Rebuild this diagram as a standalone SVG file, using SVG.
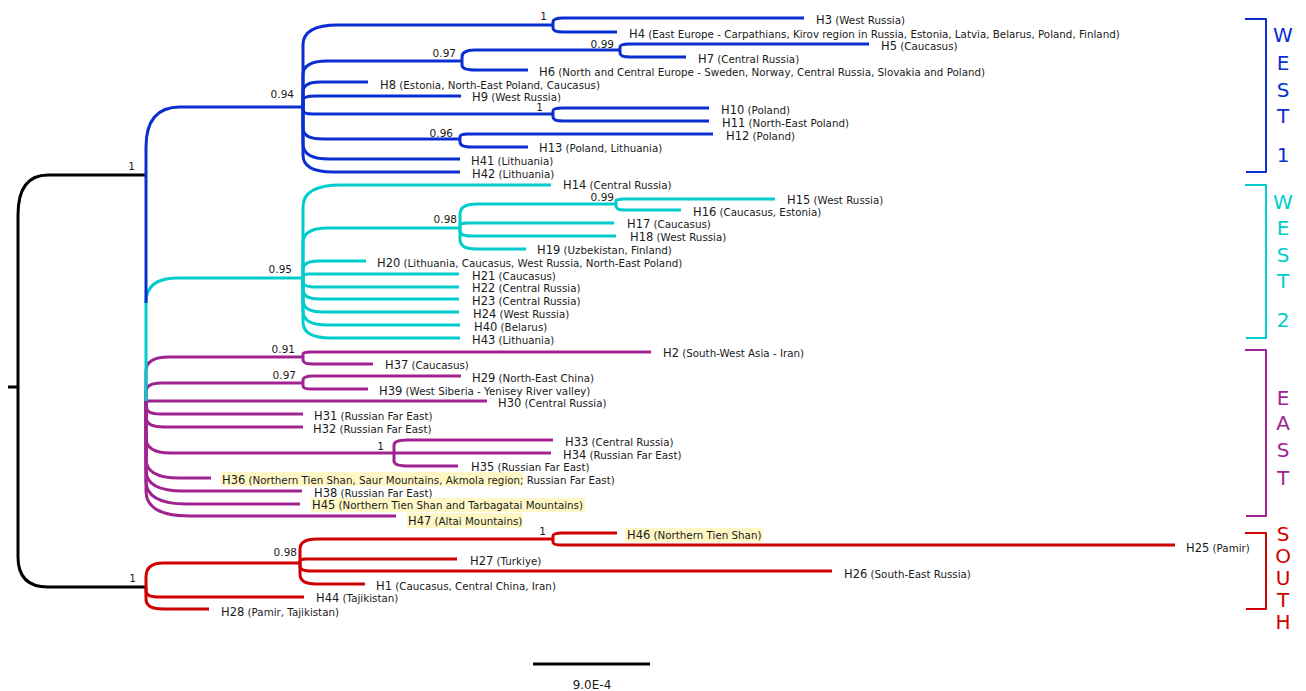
<svg xmlns="http://www.w3.org/2000/svg" width="1306" height="691" viewBox="0 0 1306 691">
<style>
path{fill:none;stroke-width:3;stroke-linejoin:round}
.k{stroke:#000}.b{stroke:#0a2ed0}.c{stroke:#00cccc}.p{stroke:#a0248f}.r{stroke:#d00000}
.lbl{font-family:"DejaVu Sans",sans-serif;fill:#1a1a1a}
.hn{font-size:11.5px}.ds{font-size:10.3px}
.sup{font-family:"DejaVu Sans",sans-serif;font-size:10.5px;text-anchor:end;fill:#1a1a1a}
.hl{fill:#fff8c6}
.brk{fill:none;stroke-width:2}
.cl{font-family:"DejaVu Sans",sans-serif;font-size:20px;text-anchor:middle}
</style>
<rect width="1306" height="691" fill="#fff"/>
<g id="highlights">
<rect class="hl" x="221" y="472" width="302" height="14"/>
<rect class="hl" x="311" y="498" width="274" height="14"/>
<rect class="hl" x="407" y="513" width="116" height="15"/>
<rect class="hl" x="625" y="528" width="138" height="14"/>
</g>
<g id="connectors">
<g class="k">
<path d="M8,387 H18"/>
<path d="M18,387 V215 Q18,175 48,175 H146"/>
<path d="M18,387 V557 Q18,587 48,587 H146"/>
<path d="M533,664 H650"/>
</g>
<g class="p">
<path d="M146,401 V371 Q146,357 169,357 H303"/>
<path d="M146,401 V392 Q146,383 161,383 H303"/>
<path d="M146,401 H487"/>
<path d="M146,401 V406 Q146,414 160,414 H303"/>
<path d="M146,401 V417 Q146,427 164,427 H303"/>
<path d="M146,401 V438 Q146,453 171,453 H394"/>
<path d="M146,401 V459 Q146,478 179,478 H211"/>
<path d="M146,401 V470 Q146,491 183,491 H302"/>
<path d="M146,401 V481 Q146,504 187,504 H300"/>
<path d="M146,401 V491 Q146,516 190,516 H396"/>
<path d="M303,357 V354 Q303,352 310,352 H651"/>
<path d="M303,357 V360 Q303,364 313,364 H373"/>
<path d="M303,383 V380 Q303,376 313,376 H461"/>
<path d="M303,383 V386 Q303,389 312,389 H368"/>
<path d="M394,453 V445 Q394,440 407,440 H553"/>
<path d="M394,453 H551"/>
<path d="M394,453 V461 Q394,466 408,466 H458"/>
</g>
<g class="c">
<path d="M146,401 V302 Q146,278 178,278 H303"/>
<path d="M303,278 V207 Q303,185 341,185 H551"/>
<path d="M303,278 V243 Q303,228 328,228 H460"/>
<path d="M303,278 V270 Q303,261 318,261 H366"/>
<path d="M303,278 V276 Q303,274 309,274 H459"/>
<path d="M303,278 V282 Q303,287 316,287 H459"/>
<path d="M303,278 V289 Q303,299 319,299 H459"/>
<path d="M303,278 V300 Q303,312 323,312 H459"/>
<path d="M303,278 V311 Q303,325 327,325 H460"/>
<path d="M303,278 V322 Q303,338 331,338 H460"/>
<path d="M460,228 V214 Q460,204 477,204 H616"/>
<path d="M460,228 V226 Q460,223 467,223 H614"/>
<path d="M460,228 V231 Q460,236 471,236 H616"/>
<path d="M460,228 V239 Q460,249 476,249 H526"/>
<path d="M616,204 V201 Q616,199 624,199 H775"/>
<path d="M616,204 V206 Q616,210 625,210 H681"/>
</g>
<g class="b">
<path d="M146,175 V303"/>
<path d="M146,175 V147 Q146,107 180,107 H303"/>
<path d="M303,107 V45 Q303,25 338,25 H553"/>
<path d="M303,107 V75 Q303,61 327,61 H462"/>
<path d="M303,107 V92 Q303,82 320,82 H368"/>
<path d="M303,107 V100 Q303,96 316,96 H461"/>
<path d="M303,107 V110 Q303,114 313,114 H553"/>
<path d="M303,107 V128 Q303,139 323,139 H460"/>
<path d="M303,107 V144 Q303,159 329,159 H460"/>
<path d="M303,107 V155 Q303,172 333,172 H460"/>
<path d="M553,25 V22 Q553,18 563,18 H804"/>
<path d="M553,25 V28 Q553,32 563,32 H617"/>
<path d="M462,61 V57 Q462,50 475,50 H620"/>
<path d="M462,61 V65 Q462,70 475,70 H528"/>
<path d="M620,50 V47 Q620,44 629,44 H869"/>
<path d="M620,50 V53 Q620,57 630,57 H686"/>
<path d="M553,114 V111 Q553,108 562,108 H709"/>
<path d="M553,114 V117 Q553,121 563,121 H709"/>
<path d="M460,139 V137 Q460,134 467,134 H713"/>
<path d="M460,139 V142 Q460,147 471,147 H528"/>
</g>
<g class="r">
<path d="M146,587 V577 Q146,563 163,563 H300"/>
<path d="M146,587 V591 Q146,597 159,597 H304"/>
<path d="M146,587 V599 Q146,609 163,609 H209"/>
<path d="M300,563 V549 Q300,539 317,539 H553"/>
<path d="M300,563 V561 Q300,559 306,559 H457"/>
<path d="M300,563 V566 Q300,571 311,571 H832"/>
<path d="M300,563 V574 Q300,584 316,584 H365"/>
<path d="M553,539 V536 Q553,533 562,533 H617"/>
<path d="M553,539 V542 Q553,545 562,545 H1175"/>
</g>
</g>
<g id="support">
<text class="sup" x="547" y="20">1</text>
<text class="sup" x="456" y="57">0.97</text>
<text class="sup" x="614" y="48">0.99</text>
<text class="sup" x="543" y="111">1</text>
<text class="sup" x="453" y="137">0.96</text>
<text class="sup" x="294" y="98">0.94</text>
<text class="sup" x="135" y="170">1</text>
<text class="sup" x="292" y="273">0.95</text>
<text class="sup" x="457" y="223">0.98</text>
<text class="sup" x="614" y="201">0.99</text>
<text class="sup" x="295" y="353">0.91</text>
<text class="sup" x="296" y="379">0.97</text>
<text class="sup" x="384" y="450">1</text>
<text class="sup" x="136" y="582">1</text>
<text class="sup" x="297" y="556">0.98</text>
<text class="sup" x="546" y="535">1</text>
</g>
<g id="H3"><text class="lbl" x="816" y="24"><tspan class="hn">H3</tspan><tspan class="ds"> (West Russia)</tspan></text></g>
<g id="H4"><text class="lbl" x="629" y="38"><tspan class="hn">H4</tspan><tspan class="ds"> (East Europe - Carpathians, Kirov region in Russia, Estonia, Latvia, Belarus, Poland, Finland)</tspan></text></g>
<g id="H5"><text class="lbl" x="881" y="50"><tspan class="hn">H5</tspan><tspan class="ds"> (Caucasus)</tspan></text></g>
<g id="H7"><text class="lbl" x="698" y="63"><tspan class="hn">H7</tspan><tspan class="ds"> (Central Russia)</tspan></text></g>
<g id="H6"><text class="lbl" x="539" y="76"><tspan class="hn">H6</tspan><tspan class="ds"> (North and Central Europe - Sweden, Norway, Central Russia, Slovakia and Poland)</tspan></text></g>
<g id="H8"><text class="lbl" x="380" y="89"><tspan class="hn">H8</tspan><tspan class="ds"> (Estonia, North-East Poland, Caucasus)</tspan></text></g>
<g id="H9"><text class="lbl" x="472" y="101"><tspan class="hn">H9</tspan><tspan class="ds"> (West Russia)</tspan></text></g>
<g id="H10"><text class="lbl" x="721" y="114"><tspan class="hn">H10</tspan><tspan class="ds"> (Poland)</tspan></text></g>
<g id="H11"><text class="lbl" x="722" y="127"><tspan class="hn">H11</tspan><tspan class="ds"> (North-East Poland)</tspan></text></g>
<g id="H12"><text class="lbl" x="726" y="140"><tspan class="hn">H12</tspan><tspan class="ds"> (Poland)</tspan></text></g>
<g id="H13"><text class="lbl" x="539" y="152"><tspan class="hn">H13</tspan><tspan class="ds"> (Poland, Lithuania)</tspan></text></g>
<g id="H41"><text class="lbl" x="471" y="165"><tspan class="hn">H41</tspan><tspan class="ds"> (Lithuania)</tspan></text></g>
<g id="H42"><text class="lbl" x="472" y="178"><tspan class="hn">H42</tspan><tspan class="ds"> (Lithuania)</tspan></text></g>
<g id="H14"><text class="lbl" x="563" y="189"><tspan class="hn">H14</tspan><tspan class="ds"> (Central Russia)</tspan></text></g>
<g id="H15"><text class="lbl" x="787" y="204"><tspan class="hn">H15</tspan><tspan class="ds"> (West Russia)</tspan></text></g>
<g id="H16"><text class="lbl" x="693" y="216"><tspan class="hn">H16</tspan><tspan class="ds"> (Caucasus, Estonia)</tspan></text></g>
<g id="H17"><text class="lbl" x="627" y="228"><tspan class="hn">H17</tspan><tspan class="ds"> (Caucasus)</tspan></text></g>
<g id="H18"><text class="lbl" x="630" y="241"><tspan class="hn">H18</tspan><tspan class="ds"> (West Russia)</tspan></text></g>
<g id="H19"><text class="lbl" x="537" y="254"><tspan class="hn">H19</tspan><tspan class="ds"> (Uzbekistan, Finland)</tspan></text></g>
<g id="H20"><text class="lbl" x="377" y="267"><tspan class="hn">H20</tspan><tspan class="ds"> (Lithuania, Caucasus, West Russia, North-East Poland)</tspan></text></g>
<g id="H21"><text class="lbl" x="472" y="280"><tspan class="hn">H21</tspan><tspan class="ds"> (Caucasus)</tspan></text></g>
<g id="H22"><text class="lbl" x="472" y="292"><tspan class="hn">H22</tspan><tspan class="ds"> (Central Russia)</tspan></text></g>
<g id="H23"><text class="lbl" x="472" y="305"><tspan class="hn">H23</tspan><tspan class="ds"> (Central Russia)</tspan></text></g>
<g id="H24"><text class="lbl" x="473" y="318"><tspan class="hn">H24</tspan><tspan class="ds"> (West Russia)</tspan></text></g>
<g id="H40"><text class="lbl" x="474" y="331"><tspan class="hn">H40</tspan><tspan class="ds"> (Belarus)</tspan></text></g>
<g id="H43"><text class="lbl" x="472" y="344"><tspan class="hn">H43</tspan><tspan class="ds"> (Lithuania)</tspan></text></g>
<g id="H2"><text class="lbl" x="663" y="357"><tspan class="hn">H2</tspan><tspan class="ds"> (South-West Asia - Iran)</tspan></text></g>
<g id="H37"><text class="lbl" x="385" y="369"><tspan class="hn">H37</tspan><tspan class="ds"> (Caucasus)</tspan></text></g>
<g id="H29"><text class="lbl" x="472" y="382"><tspan class="hn">H29</tspan><tspan class="ds"> (North-East China)</tspan></text></g>
<g id="H39"><text class="lbl" x="379" y="395"><tspan class="hn">H39</tspan><tspan class="ds"> (West Siberia - Yenisey River valley)</tspan></text></g>
<g id="H30"><text class="lbl" x="498" y="407"><tspan class="hn">H30</tspan><tspan class="ds"> (Central Russia)</tspan></text></g>
<g id="H31"><text class="lbl" x="314" y="420"><tspan class="hn">H31</tspan><tspan class="ds"> (Russian Far East)</tspan></text></g>
<g id="H32"><text class="lbl" x="313" y="433"><tspan class="hn">H32</tspan><tspan class="ds"> (Russian Far East)</tspan></text></g>
<g id="H33"><text class="lbl" x="565" y="446"><tspan class="hn">H33</tspan><tspan class="ds"> (Central Russia)</tspan></text></g>
<g id="H34"><text class="lbl" x="563" y="459"><tspan class="hn">H34</tspan><tspan class="ds"> (Russian Far East)</tspan></text></g>
<g id="H35"><text class="lbl" x="471" y="471"><tspan class="hn">H35</tspan><tspan class="ds"> (Russian Far East)</tspan></text></g>
<g id="H36"><text class="lbl" x="222" y="484"><tspan class="hn">H36</tspan><tspan class="ds"> (Northern Tien Shan, Saur Mountains, Akmola region; Russian Far East)</tspan></text></g>
<g id="H38"><text class="lbl" x="314" y="497"><tspan class="hn">H38</tspan><tspan class="ds"> (Russian Far East)</tspan></text></g>
<g id="H45"><text class="lbl" x="312" y="509"><tspan class="hn">H45</tspan><tspan class="ds"> (Northern Tien Shan and Tarbagatai Mountains)</tspan></text></g>
<g id="H47"><text class="lbl" x="408" y="525"><tspan class="hn">H47</tspan><tspan class="ds"> (Altai Mountains)</tspan></text></g>
<g id="H46"><text class="lbl" x="627" y="539"><tspan class="hn">H46</tspan><tspan class="ds"> (Northern Tien Shan)</tspan></text></g>
<g id="H25"><text class="lbl" x="1186" y="552"><tspan class="hn">H25</tspan><tspan class="ds"> (Pamir)</tspan></text></g>
<g id="H27"><text class="lbl" x="470" y="565"><tspan class="hn">H27</tspan><tspan class="ds"> (Turkiye)</tspan></text></g>
<g id="H26"><text class="lbl" x="844" y="578"><tspan class="hn">H26</tspan><tspan class="ds"> (South-East Russia)</tspan></text></g>
<g id="H1"><text class="lbl" x="376" y="590"><tspan class="hn">H1</tspan><tspan class="ds"> (Caucasus, Central China, Iran)</tspan></text></g>
<g id="H44"><text class="lbl" x="316" y="602"><tspan class="hn">H44</tspan><tspan class="ds"> (Tajikistan)</tspan></text></g>
<g id="H28"><text class="lbl" x="221" y="616"><tspan class="hn">H28</tspan><tspan class="ds"> (Pamir, Tajikistan)</tspan></text></g>
<g id="scale"><text class="lbl" x="592" y="689" text-anchor="middle" font-size="12">9.0E-4</text></g>
<g id="clade-west1">
<path class="brk" stroke="#0a2ed0" d="M1245,19 H1266 V172 H1246"/>
<g class="cl" fill="#0a2ed0"><text x="1283" y="42">W</text><text x="1283" y="70">E</text><text x="1283" y="97">S</text><text x="1283" y="123">T</text><text x="1283" y="162">1</text></g>
</g>
<g id="clade-west2">
<path class="brk" stroke="#00cccc" d="M1245,185 H1266 V338 H1246"/>
<g class="cl" fill="#00cccc"><text x="1283" y="209">W</text><text x="1283" y="235">E</text><text x="1283" y="262">S</text><text x="1283" y="288">T</text><text x="1283" y="327">2</text></g>
</g>
<g id="clade-east">
<path class="brk" stroke="#a0248f" d="M1245,350 H1266 V516 H1246"/>
<g class="cl" fill="#a0248f"><text x="1283" y="405">E</text><text x="1283" y="430">A</text><text x="1283" y="457">S</text><text x="1283" y="485">T</text></g>
</g>
<g id="clade-south">
<path class="brk" stroke="#d00000" d="M1245,533 H1266 V609 H1246"/>
<g class="cl" fill="#d00000"><text x="1283" y="541">S</text><text x="1283" y="563">O</text><text x="1283" y="585">U</text><text x="1283" y="607">T</text><text x="1283" y="629">H</text></g>
</g>
</svg>
